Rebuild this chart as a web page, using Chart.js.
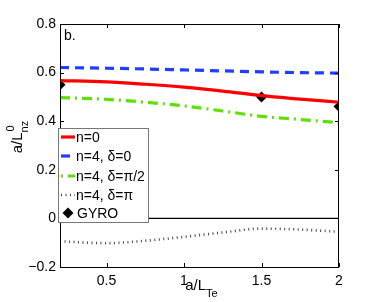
<!DOCTYPE html>
<html><head><meta charset="utf-8">
<script src="https://cdn.jsdelivr.net/npm/chart.js@4/dist/chart.umd.min.js"></script>
<style>html,body{margin:0;padding:0;background:#fff}#wrap{width:374px;height:302px}</style>
</head><body><div id="wrap"><canvas id="c" width="374" height="302"></canvas></div>
<script>
const xVals = [0.2, 0.5, 0.75, 1.0, 1.25, 1.5, 1.75, 2.0];
const n0 = [0.567, 0.562, 0.552, 0.540, 0.524, 0.505, 0.491, 0.478];
const n4d0 = [0.621, 0.618, 0.615, 0.611, 0.607, 0.603, 0.600, 0.598];
const n4dHalfPi = [0.497, 0.490, 0.478, 0.463, 0.442, 0.420, 0.407, 0.394];
const n4dPi = [-0.094, -0.102, -0.092, -0.076, -0.058, -0.042, -0.046, -0.055];
const gyroX = [0.2, 1.5, 2.0];
const gyroY = [0.55, 0.50, 0.46];
const xTicks = [0.5, 1, 1.5, 2];
const seriesNames = ['n=0', 'n=4, \u03b4=0', 'n=4, \u03b4=\u03c0/2', 'n=4, \u03b4=\u03c0', 'GYRO'];

const FONT = '"Liberation Sans", Arial, sans-serif';
const pts = (ys) => xVals.map((x, i) => ({x, y: ys[i]}));

const styles = [
  {color:'#ff0000', width:3.2, dash:[], off:0},
  {color:'#1f3fff', width:3.2, dash:[9,6], off:0},
  {color:'#5ee000', width:3.2, dash:[10,5,2,5], off:15},
  {color:'#444444', width:2.6, dash:[1,3.5], off:0},
];

const datasets = [n0, n4d0, n4dHalfPi, n4dPi].map((ys, i) => ({
  label: seriesNames[i], data: pts(ys), borderColor: styles[i].color,
  borderWidth: styles[i].width, borderDash: styles[i].dash, pointRadius: 0,
  cubicInterpolationMode: 'monotone', fill: false
}));
datasets.push({label: 'zero', data: [{x:0.2,y:0},{x:2,y:0}], borderColor:'#000', borderWidth:1.2, pointRadius:0});
datasets.push({label: seriesNames[4], data: gyroX.map((x,i)=>({x, y: gyroY[i]})), showLine:false,
  pointStyle:'rectRot', pointRadius:5.5, backgroundColor:'#000', borderColor:'#000', borderWidth:0});

const deco = {
  id: 'deco',
  afterDraw(chart) {
    const {ctx, chartArea: a, scales: {x, y}} = chart;
    ctx.save();
    ctx.strokeStyle = '#000'; ctx.lineWidth = 1;
    ctx.strokeRect(a.left + 0.5, a.top + 0.5, a.right - a.left - 1, a.bottom - a.top);
    ctx.beginPath();
    const tl = 4;
    xTicks.forEach(v => { const px = Math.round(x.getPixelForValue(v)) + 0.5;
      ctx.moveTo(px, a.bottom); ctx.lineTo(px, a.bottom - tl);
      ctx.moveTo(px, a.top); ctx.lineTo(px, a.top + tl); });
    y.ticks.forEach(t => { const py = Math.round(y.getPixelForValue(t.value)) + 0.5;
      ctx.moveTo(a.left, py); ctx.lineTo(a.left + tl, py);
      ctx.moveTo(a.right, py); ctx.lineTo(a.right - tl, py); });
    ctx.stroke();
    ctx.fillStyle = '#000'; ctx.font = '14px ' + FONT; ctx.textBaseline = 'alphabetic'; ctx.textAlign = 'left';
    ctx.fillText('b.', a.left + 4, a.top + 16);
    // legend
    const lx = 58, ly = 128, lw = 90, lh = 94;
    ctx.fillStyle = '#fff'; ctx.fillRect(lx, ly, lw, lh);
    ctx.strokeStyle = '#777'; ctx.lineWidth = 1; ctx.strokeRect(lx + 0.5, ly + 0.5, lw, lh);
    const rowY = [137, 156, 176, 195, 213];
    for (let i = 0; i < 5; i++) {
      const ry = rowY[i];
      if (i < 4) {
        ctx.beginPath(); ctx.strokeStyle = styles[i].color; ctx.lineWidth = styles[i].width;
        ctx.setLineDash(styles[i].dash); ctx.lineDashOffset = styles[i].off;
        ctx.moveTo(61, ry); ctx.lineTo(75, ry); ctx.stroke(); ctx.setLineDash([]); ctx.lineDashOffset = 0;
      } else {
        ctx.fillStyle = '#000'; ctx.beginPath();
        ctx.moveTo(68, ry - 5.5); ctx.lineTo(73.5, ry); ctx.lineTo(68, ry + 5.5); ctx.lineTo(62.5, ry); ctx.closePath(); ctx.fill();
      }
      ctx.fillStyle = '#000'; ctx.font = '14px ' + FONT; ctx.textBaseline = 'middle'; ctx.textAlign = 'left';
      ctx.fillText(seriesNames[i], i < 4 ? 76 : 77, ry + 1);
    }
    // x title
    ctx.textBaseline = 'alphabetic';
    ctx.font = '15px ' + FONT;
    const main = 'a/L', sub = 'Te';
    const mw = ctx.measureText(main).width;
    ctx.font = '11px ' + FONT; const sw = ctx.measureText(sub).width;
    let sx = (a.left + a.right) / 2 + 2 - (mw + sw) / 2;
    ctx.font = '15px ' + FONT; ctx.fillText(main, sx, 290);
    ctx.font = '11px ' + FONT; ctx.fillText(sub, sx + mw, 297);
    // y title
    ctx.translate(22, 137); ctx.rotate(-Math.PI / 2);
    ctx.font = '15px ' + FONT;
    const ymain = 'a/L'; const ymw = ctx.measureText(ymain).width;
    ctx.font = '11px ' + FONT; const ysw = ctx.measureText('nz').width;
    const ys0 = -(ymw + ysw) / 2;
    ctx.font = '15px ' + FONT; ctx.fillText(ymain, ys0, 0);
    ctx.font = '11px ' + FONT; ctx.fillText('nz', ys0 + ymw, 6); ctx.fillText('0', ys0 + ymw + 1, -8);
    ctx.restore();
  }
};

new Chart(document.getElementById('c'), {
  type: 'line',
  data: { datasets },
  options: {
    responsive: false, animation: false, devicePixelRatio: 1,
    layout: { padding: { top: 24, right: 35, left: 0, bottom: 0 } },
    plugins: { legend: { display: false }, tooltip: { enabled: false } },
    scales: {
      x: { type: 'linear', min: 0.2, max: 2,
        afterBuildTicks: s => { s.ticks = xTicks.map(v => ({value: v})); },
        afterFit: s => { s.height = 35; },
        grid: { display: false, drawTicks: false }, border: { display: false },
        ticks: { color: '#000', font: { family: FONT, size: 14 }, padding: 6, maxRotation: 0,
          callback: v => String(v) } },
      y: { type: 'linear', min: -0.2, max: 0.8,
        afterFit: s => { s.width = 60; },
        grid: { display: false, drawTicks: false }, border: { display: false },
        ticks: { stepSize: 0.2, color: '#000', font: { family: FONT, size: 14 }, padding: 4,
          callback: v => { const r = Math.round(v * 10) / 10; return (r < 0 ? '\u2212' + Math.abs(r) : String(r)); } } }
    }
  },
  plugins: [deco]
});
</script></body></html>
